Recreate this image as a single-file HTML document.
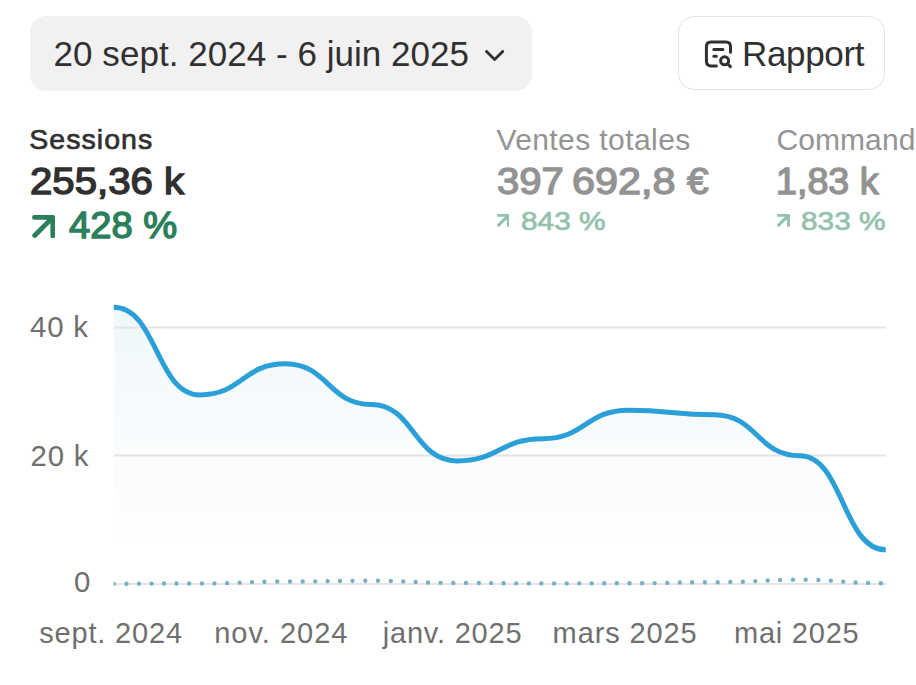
<!DOCTYPE html>
<html><head><meta charset="utf-8">
<style>
html,body{margin:0;padding:0;background:#fff;}
body{width:916px;height:685px;position:relative;overflow:hidden;font-family:"Liberation Sans",sans-serif;color:#303030;}
.t{position:absolute;white-space:nowrap;line-height:1;}
.btn1{position:absolute;left:29.6px;top:15.7px;width:502.3px;height:75.1px;background:#f1f1f1;border-radius:16.5px;}
.btn2{position:absolute;left:678.1px;top:16.1px;width:205.3px;height:72px;background:#fff;border:1.6px solid #e3e3e3;border-radius:16px;}
</style></head>
<body>
<div class="btn1"></div>
<div class="t" id="date" style="left:53.60px;top:35.97px;font-size:35px;letter-spacing:0.038px;color:#303030;">20 sept. 2024 - 6 juin 2025</div>
<svg style="position:absolute;left:485px;top:50px" width="22" height="14" viewBox="0 0 22 14"><path d="M1.5 1.4 L9.6 9.5 L17.7 1.4" fill="none" stroke="#303030" stroke-width="2.8" stroke-linecap="round" stroke-linejoin="round"/></svg>

<div class="btn2"></div>
<svg style="position:absolute;left:703.2px;top:38.5px" width="32" height="32" viewBox="0 0 32 32">
  <path d="M13.4 26.9 H8 Q3.4 26.9 3.4 22.3 V7.7 Q3.4 3.1 8 3.1 H22.9 Q27.5 3.1 27.5 7.7 V13.3" fill="none" stroke="#303030" stroke-width="3" stroke-linecap="round"/>
  <path d="M10.8 10.6 H19.9 M10.8 17.2 H13.3" fill="none" stroke="#303030" stroke-width="3" stroke-linecap="round"/>
  <circle cx="21.6" cy="21.8" r="4" fill="none" stroke="#303030" stroke-width="3"/>
  <path d="M24.6 24.8 L27.4 27.6" stroke="#303030" stroke-width="3" stroke-linecap="round"/>
</svg>
<div class="t" id="rap" style="left:742.00px;top:36.07px;font-size:35px;letter-spacing:-0.333px;color:#303030;">Rapport</div>

<div class="t" id="s1" style="left:29.20px;top:125.37px;font-size:28.5px;letter-spacing:1.057px;color:#303030;-webkit-text-stroke:0.7px #303030;">Sessions</div>
<div class="t" id="v1" style="left:30.20px;top:163.64px;font-size:36.8px;letter-spacing:0.000px;color:#303030;transform:scaleX(1.0912);transform-origin:0 0;-webkit-text-stroke:1.4px #303030;">255,36 k</div>
<svg style="position:absolute;left:31.5px;top:214.6px" width="23.2" height="23.2" viewBox="0 0 23.2 23.2"><path d="M2.40 2.40 H20.80 V20.80 M2.70 20.50 L20.80 2.40" fill="none" stroke="#2b805b" stroke-width="4.8" stroke-linecap="round" stroke-linejoin="round"/></svg>
<div class="t" id="p1" style="left:69.00px;top:207.30px;font-size:37.2px;letter-spacing:0.000px;color:#2b805b;transform:scaleX(1.0252);transform-origin:0 0;-webkit-text-stroke:1.4px #2b805b;">428 %</div>

<div class="t" id="s2" style="left:496.40px;top:124.60px;font-size:30px;letter-spacing:0.415px;color:#939393;">Ventes totales</div>
<div class="t" id="v2a" style="left:496.90px;top:163.84px;font-size:36.8px;letter-spacing:0.000px;color:#939393;transform:scaleX(1.0891);transform-origin:0 0;-webkit-text-stroke:1.4px #939393;">397</div>
<div class="t" id="v2b" style="left:572.20px;top:163.84px;font-size:36.8px;letter-spacing:0.000px;color:#939393;transform:scaleX(1.1230);transform-origin:0 0;-webkit-text-stroke:1.4px #939393;">692,8</div>
<div class="t" id="v2c" style="left:687.20px;top:163.84px;font-size:36.8px;letter-spacing:0.000px;color:#939393;transform:scaleX(1.0500);transform-origin:0 0;-webkit-text-stroke:1.4px #939393;">€</div>
<svg style="position:absolute;left:496.6px;top:214.2px" width="12.8" height="12.8" viewBox="0 0 12.8 12.8"><path d="M1.35 1.35 H11.45 V11.45 M1.65 11.15 L11.45 1.35" fill="none" stroke="#94c1ac" stroke-width="3" stroke-linecap="round" stroke-linejoin="round"/></svg>
<div class="t" id="p2" style="left:520.80px;top:208.45px;font-size:26.4px;letter-spacing:0.000px;color:#94c1ac;transform:scaleX(1.1291);transform-origin:0 0;-webkit-text-stroke:0.7px #94c1ac;">843 %</div>

<div class="t" id="s3" style="left:776.40px;top:124.60px;font-size:30px;letter-spacing:0.100px;color:#939393;">Commandes</div>
<div class="t" id="v3" style="left:775.80px;top:163.94px;font-size:36.8px;letter-spacing:0.000px;color:#939393;transform:scaleX(1.0228);transform-origin:0 0;-webkit-text-stroke:1.4px #939393;">1,83 k</div>
<svg style="position:absolute;left:777.2px;top:214.3px" width="12.8" height="12.8" viewBox="0 0 12.8 12.8"><path d="M1.35 1.35 H11.45 V11.45 M1.65 11.15 L11.45 1.35" fill="none" stroke="#94c1ac" stroke-width="3" stroke-linecap="round" stroke-linejoin="round"/></svg>
<div class="t" id="p3" style="left:800.80px;top:208.45px;font-size:26.4px;letter-spacing:0.000px;color:#94c1ac;transform:scaleX(1.1291);transform-origin:0 0;-webkit-text-stroke:0.7px #94c1ac;">833 %</div>

<!-- chart -->
<div class="t" id="y40" style="left:30.00px;top:311.81px;font-size:29.4px;letter-spacing:0.833px;color:#6f6f6f;">40 k</div>
<div class="t" id="y20" style="left:30.60px;top:441.11px;font-size:29.4px;letter-spacing:0.733px;color:#6f6f6f;">20 k</div>
<div class="t" id="y0" style="left:74.00px;top:566.81px;font-size:29.4px;letter-spacing:0.000px;color:#6f6f6f;">0</div>

<svg id="chart" style="position:absolute;left:0;top:0" width="916" height="685" viewBox="0 0 916 685">
  <defs>
    <linearGradient id="g" x1="0" y1="300" x2="0" y2="540" gradientUnits="userSpaceOnUse">
      <stop offset="0" stop-color="#2a9fd8" stop-opacity="0.085"/>
      <stop offset="0.6" stop-color="#5a9fc8" stop-opacity="0.035"/>
      <stop offset="1" stop-color="#8090a8" stop-opacity="0.012"/>
    </linearGradient>
    <clipPath id="cl"><rect x="113.8" y="290" width="772" height="249"/></clipPath>
    <clipPath id="cl2"><rect x="113.8" y="560" width="780" height="40"/></clipPath>
  </defs>
  <path id="area" d="M113.8 307.3 C156.7 307.3 156.7 394.9 199.6 394.9 C242.5 394.9 242.5 363.8 285.4 363.8 C328.2 363.8 328.2 404.4 371.1 404.4 C414.0 404.4 414.0 460.9 456.9 460.9 C499.8 460.9 499.8 438.7 542.7 438.7 C585.6 438.7 585.6 410.2 628.5 410.2 C671.4 410.2 671.4 414.8 714.2 414.8 C757.1 414.8 757.1 455.8 800.0 455.8 C842.9 455.8 842.9 549.8 885.8 549.8 L885.8 584 L113.8 584 Z" fill="url(#g)" clip-path="url(#cl)"/>
  <line x1="113.8" y1="327.5" x2="886" y2="327.5" stroke="#e3e3e3" stroke-width="2"/>
  <line x1="113.8" y1="455.5" x2="886" y2="455.5" stroke="#e3e3e3" stroke-width="2"/>
  <path id="line" d="M113.8 307.3 C156.7 307.3 156.7 394.9 199.6 394.9 C242.5 394.9 242.5 363.8 285.4 363.8 C328.2 363.8 328.2 404.4 371.1 404.4 C414.0 404.4 414.0 460.9 456.9 460.9 C499.8 460.9 499.8 438.7 542.7 438.7 C585.6 438.7 585.6 410.2 628.5 410.2 C671.4 410.2 671.4 414.8 714.2 414.8 C757.1 414.8 757.1 455.8 800.0 455.8 C842.9 455.8 842.9 549.8 885.8 549.8" fill="none" stroke="#2a9fd8" stroke-width="5" stroke-linecap="butt"/>
  <line x1="113.8" y1="584" x2="886" y2="584" stroke="#dcdcdc" stroke-width="1.4"/>
  <path id="cmp" d="M113.8 583.7 C156.7 583.7 156.7 583.5 199.6 583.5 C242.5 583.5 242.5 581.5 285.4 581.5 C328.2 581.5 328.2 580.8 371.1 580.8 C414.0 580.8 414.0 583.0 456.9 583.0 C499.8 583.0 499.8 583.4 542.7 583.4 C585.6 583.4 585.6 583.3 628.5 583.3 C671.4 583.3 671.4 582.2 714.2 582.2 C757.1 582.2 757.1 579.8 800.0 579.8 C842.9 579.8 842.9 583.3 885.8 583.3" fill="none" stroke="#76b0c6" stroke-width="4.4" stroke-linecap="round" stroke-dasharray="0 12.58" clip-path="url(#cl2)"/>
</svg>

<div class="t" id="x1" style="left:39.20px;top:618.65px;font-size:29px;letter-spacing:0.822px;color:#6f6f6f;">sept. 2024</div>
<div class="t" id="x2" style="left:214.20px;top:618.65px;font-size:29px;letter-spacing:1.000px;color:#6f6f6f;">nov. 2024</div>
<div class="t" id="x3" style="left:382.80px;top:618.65px;font-size:29px;letter-spacing:0.789px;color:#6f6f6f;">janv. 2025</div>
<div class="t" id="x4" style="left:552.60px;top:618.65px;font-size:29px;letter-spacing:0.888px;color:#6f6f6f;">mars 2025</div>
<div class="t" id="x5" style="left:734.00px;top:618.65px;font-size:29px;letter-spacing:0.771px;color:#6f6f6f;">mai 2025</div>
</body></html>
